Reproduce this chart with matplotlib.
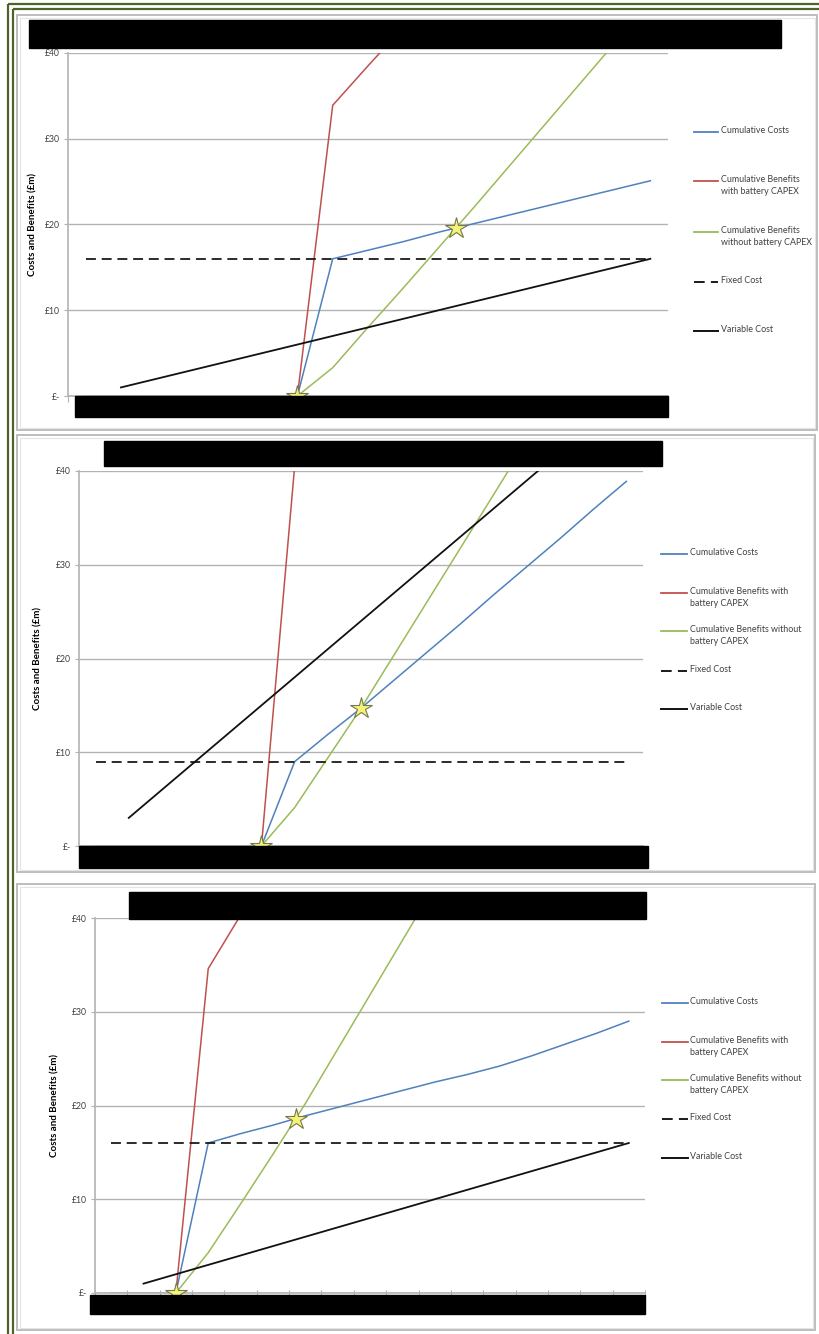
import numpy as np
import matplotlib.pyplot as plt
from matplotlib.patches import Rectangle

plt.rcParams['font.family'] = ['Lato', 'DejaVu Sans']

nan = np.nan
cats = np.arange(17)

# top chart
p1_costs = [0, 0, 0, 0, 0, 0, 0, 16.0, 17.0, 18.0, 19.1, 20.1, 21.1, 22.1, 23.1, 24.1, 25.1]
p1_ben_capex = [0, 0, 0, 0, 0, 0, 0, 33.9, 38.5, 43.0, nan, nan, nan, nan, nan, nan, nan]
p1_ben_nocapex = [0, 0, 0, 0, 0, 0, 0, 3.3, 8.0, 12.6, 17.3, 22.0, 26.8, 31.6, 36.4, 41.2, nan]
p1_fixed = [16] * 17
p1_variable = [nan, 1, 2, 3, 4, 5, 6, 7, 8, 9, 10, 11, 12, 13, 14, 15, 16]
p1_be_x = [6, 10.5]
p1_be_y = [0, 19.6]

# middle chart
p2_costs = [0, 0, 0, 0, 0, 0, 9.0, 11.9, 14.7, 17.7, 20.7, 23.7, 26.8, 29.8, 32.8, 35.9, 38.9]
p2_ben_capex = [0, 0, 0, 0, 0, 0, 40.5, 65, nan, nan, nan, nan, nan, nan, nan, nan, nan]
p2_ben_nocapex = [0, 0, 0, 0, 0, 0, 4.1, 9.4, 14.7, 20.4, 26.1, 31.8, 37.5, 43.2, nan, nan, nan]
p2_fixed = [9] * 17
p2_variable = [nan, 3, 6, 9, 12, 15, 18, 21, 24, 27, 30, 33, 36, 39, 42, nan, nan]
p2_be_x = [5, 8]
p2_be_y = [0, 14.7]

# bottom chart
p3_costs = [0, 0, 0, 16.0, 17.0, 17.9, 18.9, 19.8, 20.7, 21.6, 22.5, 23.3, 24.2, 25.3, 26.5, 27.7, 29.0]
p3_ben_capex = [0, 0, 0, 34.6, 40.3, 46.0, nan, nan, nan, nan, nan, nan, nan, nan, nan, nan, nan]
p3_ben_nocapex = [0, 0, 0, 4.3, 9.5, 14.8, 20.2, 26.0, 31.8, 37.6, 43.4, nan, nan, nan, nan, nan, nan]
p3_fixed = [16] * 17
p3_variable = [nan, 1, 2, 3, 4, 5, 6, 7, 8, 9, 10, 11, 12, 13, 14, 15, 16]
p3_be_x = [2, 5.7]
p3_be_y = [0, 18.6]

yticks = [0, 10, 20, 30, 40]
ytick_labels = ['£-', '£10', '£20', '£30', '£40']

c_blue = '#4f81bd'
c_red = '#c0504d'
c_green = '#9bbb59'
c_grid = '#b3b3b3'
c_text = '#404040'
star_face = '#f3f37a'
star_edge = '#77774f'
dash = (0, (5.5, 3.2))

W, H = 819, 1334
fig = plt.figure(figsize=(W / 100, H / 100), dpi=100)


def box(l, t, r, b):
    return [l / W, 1 - b / H, (r - l) / W, (b - t) / H]


# page background with the borders
bg = fig.add_axes([0, 0, 1, 1])
bg.set_xlim(0, W)
bg.set_ylim(H, 0)
bg.axis('off')
bg.add_patch(Rectangle((8, 4), 900, 1400, fill=False, ec='#4f6228', lw=1.6))
bg.add_patch(Rectangle((12.5, 9), 900, 1400, fill=False, ec='#4f6228', lw=1.6))
for l, t, r, b in [(17, 15, 817, 430), (17, 435, 815, 872), (17, 884, 815, 1330)]:
    bg.add_patch(Rectangle((l, t), r - l, b - t, fill=False, ec='#bdbdbd', lw=1.4))
    bg.add_patch(Rectangle((l + 2.5, t + 2.5), r - l - 5, b - t - 5, fill=False, ec='#e4e4e4', lw=0.8))


def panel(pos, ylab_x, xtick_dir, costs, capex, nocapex, fixed, variable, bex, bey):
    ax = fig.add_axes(box(*pos))
    ax.set_xlim(-0.5, 16.5)
    ax.set_ylim(0, 40)
    ax.plot(cats, costs, color=c_blue, lw=1.1)
    ax.plot(cats, capex, color=c_red, lw=1.1)
    ax.plot(cats, nocapex, color=c_green, lw=1.1)
    ax.plot(cats, fixed, color='#1a1a1a', lw=1.3, ls=dash)
    ax.plot(cats, variable, color='#111111', lw=1.3)
    ax.plot(bex, bey, ls='none', marker='*', ms=16, mfc=star_face, mec=star_edge,
            mew=0.8, clip_on=False, zorder=5)
    ax.set_yticks(yticks)
    ax.set_yticklabels(ytick_labels)
    ax.set_xticks(np.arange(-0.5, 17, 1))
    ax.set_xticklabels([])
    ax.tick_params(axis='y', direction='out', length=3, color=c_grid, labelsize=6.2,
                   labelcolor=c_text, pad=3)
    ax.tick_params(axis='x', direction=xtick_dir, length=4, color=c_grid)
    ax.grid(axis='y', color=c_grid, lw=1)
    for s in ['top', 'right']:
        ax.spines[s].set_visible(False)
    for s in ['left', 'bottom']:
        ax.spines[s].set_color(c_grid)
        ax.spines[s].set_linewidth(1.2)
    ax.set_ylabel('Costs and Benefits (£m)', fontsize=7, fontweight='bold')
    ax.yaxis.set_label_coords(ylab_x, 0.5)
    return ax


panel((68, 53, 668, 396), -0.051, 'out', p1_costs, p1_ben_capex, p1_ben_nocapex,
      p1_fixed, p1_variable, p1_be_x, p1_be_y)
panel((79, 471, 643, 846), -0.064, 'out', p2_costs, p2_ben_capex, p2_ben_nocapex,
      p2_fixed, p2_variable, p2_be_x, p2_be_y)
panel((95, 918, 645, 1293), -0.064, 'inout', p3_costs, p3_ben_capex, p3_ben_nocapex,
      p3_fixed, p3_variable, p3_be_x, p3_be_y)

# breakeven key inside each chart
for sx, sy, tx in [(89, 75, 107), (122, 497, 142), (118, 939, 138)]:
    bg.plot([sx], [sy], marker='*', ms=17, mfc=star_face, mec=star_edge, mew=0.8, zorder=20)
    bg.text(tx, sy, 'Breakeven Points', fontsize=6.8, color=c_text, va='center', zorder=20)

# series keys on the right
labels_a = ['Cumulative Costs', 'Cumulative Benefits\nwith battery CAPEX',
            'Cumulative Benefits\nwithout battery CAPEX', 'Fixed Cost', 'Variable Cost']
labels_b = ['Cumulative Costs', 'Cumulative Benefits with\nbattery CAPEX',
            'Cumulative Benefits without\nbattery CAPEX', 'Fixed Cost', 'Variable Cost']
styles = [(c_blue, '-', 1.3), (c_red, '-', 1.3), (c_green, '-', 1.3),
          ('#1a1a1a', dash, 1.4), ('#111111', '-', 1.4)]
keys = [(694, 718, 721, [132, 181, 232, 282, 331], labels_a),
        (661, 687, 690, [554, 593, 631, 671, 709], labels_b),
        (662, 688, 690, [1003, 1042, 1080, 1119, 1158], labels_b)]
for x0, x1, tx, ys, labs in keys:
    for y, lab, (c, ls, lw) in zip(ys, labs, styles):
        bg.plot([x0, x1], [y, y], color=c, ls=ls, lw=lw, zorder=20)
        bg.text(tx, y - 5.8, lab, fontsize=6.4, color=c_text, va='top', linespacing=1.4, zorder=20)

# redacted titles and axis labels
top = fig.add_axes([0, 0, 1, 1], zorder=30)
top.set_xlim(0, W)
top.set_ylim(H, 0)
top.axis('off')
for l, t, r, b in [(29, 20, 781, 48), (75, 396, 668, 417),
                   (104, 441, 662, 466), (79, 846, 648, 868),
                   (129, 892, 646, 919), (90, 1295, 645, 1314)]:
    top.add_patch(Rectangle((l, t), r - l, b - t, color='black'))

fig.savefig('out.png', dpi=100)
